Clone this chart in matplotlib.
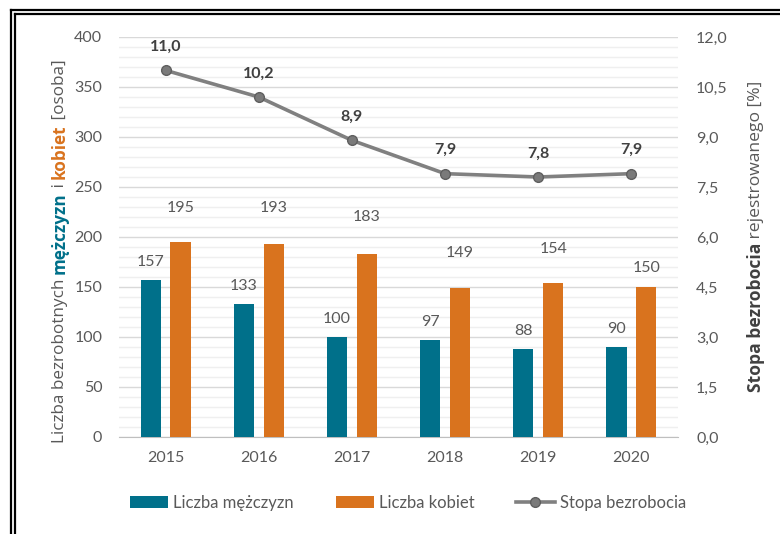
import matplotlib
matplotlib.use('Agg')
import matplotlib.pyplot as plt
from matplotlib.lines import Line2D
from matplotlib.text import Annotation
from matplotlib.ticker import MultipleLocator, FuncFormatter

plt.rcParams['font.family'] = ['Lato', 'DejaVu Sans']
plt.rcParams['font.size'] = 11.5

# dane
lata = ['2015', '2016', '2017', '2018', '2019', '2020']
mezczyzni = [157, 133, 100, 97, 88, 90]
kobiety = [195, 193, 183, 149, 154, 150]
stopa = [11.0, 10.2, 8.9, 7.9, 7.8, 7.9]

# przesunięcia etykiet kobiet (w punktach) - w oryginale przesunięte ręcznie
off_kobiety = [24.5, 26, 26.6, 25, 24.5, 13.7]

TEAL = '#00708a'
ORANGE = '#d9731e'
GRAY_TXT = '#595959'
LINE_GRAY = '#808080'

fig = plt.figure(figsize=(7.8, 5.34), dpi=100)
ax = fig.add_axes([119 / 780, 97 / 534, 559 / 780, 400 / 534])

x = list(range(len(lata)))
w = 0.215
xm = [i - 0.16 for i in x]
xk = [i + 0.16 for i in x]

b1 = ax.bar(xm, mezczyzni, width=w, color=TEAL, label='Liczba mężczyzn', zorder=3)
b2 = ax.bar(xk, kobiety, width=w, color=ORANGE, label='Liczba kobiet', zorder=3)

for xi, v in zip(xm, mezczyzni):
    ax.annotate(str(v), (xi, v), xytext=(0, 13), textcoords='offset points',
                ha='center', va='center', color=GRAY_TXT)
for xi, v, o in zip(xk, kobiety, off_kobiety):
    ax.annotate(str(v), (xi, v), xytext=(0, o), textcoords='offset points',
                ha='center', va='center', color=GRAY_TXT)

ax.set_xlim(-0.5, len(lata) - 0.5)
ax.set_ylim(0, 400)
ax.yaxis.set_major_locator(MultipleLocator(50))
ax.yaxis.set_minor_locator(MultipleLocator(10))
ax.grid(which='major', axis='y', color='#d9d9d9', linewidth=1.0)
ax.grid(which='minor', axis='y', color='#efefef', linewidth=1.0)
ax.set_axisbelow(True)
ax.set_xticks(x)
ax.set_xticklabels(lata)
for s in ['top', 'right', 'left']:
    ax.spines[s].set_visible(False)
ax.spines['bottom'].set_color('#bfbfbf')
ax.tick_params(axis='both', which='both', length=0, colors=GRAY_TXT, labelsize=11.5)
ax.tick_params(axis='y', pad=12)
ax.tick_params(axis='x', pad=10)

ax2 = ax.twinx()
ln, = ax2.plot(x, stopa, color=LINE_GRAY, linewidth=2.6, marker='o', markersize=7,
               markerfacecolor='#7a7a7a', markeredgecolor='#5f5f5f', label='Stopa bezrobocia')
for xi, v in zip(x, stopa):
    ax2.annotate(f'{v:.1f}'.replace('.', ','), (xi, v), xytext=(0, 17),
                 textcoords='offset points', ha='center', va='center',
                 color='#404040', fontweight='bold')
ax2.set_ylim(0, 12)
ax2.yaxis.set_major_locator(MultipleLocator(1.5))
ax2.yaxis.set_major_formatter(FuncFormatter(lambda v, p: f'{v:.1f}'.replace('.', ',')))
for s in ['top', 'right', 'left', 'bottom']:
    ax2.spines[s].set_visible(False)
ax2.tick_params(axis='y', length=0, colors=GRAY_TXT, labelsize=11.5, pad=13)

# wielokolorowe opisy osi, składane kawałek po kawałku
parts_l = [('Liczba bezrobotnych ', GRAY_TXT, 'normal'),
           ('mężczyzn', TEAL, 'bold'),
           (' i ', GRAY_TXT, 'normal'),
           ('kobiet', ORANGE, 'bold'),
           (' [osoba]', GRAY_TXT, 'normal')]
parts_r = [('Stopa bezrobocia', '#404040', 'bold'),
           (' rejestrowanego [%]', GRAY_TXT, 'normal')]


def chain(x0, y0, parts, size):
    fam = ['Open Sans', 'DejaVu Sans']
    prev = fig.text(x0, y0, parts[0][0], color=parts[0][1], fontweight=parts[0][2],
                    rotation=90, ha='center', va='bottom', fontsize=size, family=fam)
    for txt, col, fw in parts[1:]:
        prev = fig.add_artist(Annotation(
            txt, xy=(0.5, 1), xycoords=prev, color=col, fontweight=fw,
            rotation=90, ha='center', va='bottom', fontsize=size, family=fam,
            annotation_clip=False))


chain(60 / 780, (534 - 443) / 534, parts_l, 12.3)
chain(756 / 780, (534 - 392) / 534, parts_r, 12.6)

fig.legend(handles=[b1, b2, ln], loc='center', bbox_to_anchor=(0.523, 0.058),
           ncol=3, frameon=False, fontsize=12, labelcolor=GRAY_TXT,
           handlelength=2.3, handletextpad=0.3, columnspacing=2.5)

# podwójna ramka (góra i lewo)
for yp in [9.5, 13.5]:
    fig.add_artist(Line2D([(yp + 1.5) / 780, 1], [1 - yp / 534, 1 - yp / 534],
                          color='black', linewidth=1.6, transform=fig.transFigure))
for xp in [11, 15]:
    fig.add_artist(Line2D([xp / 780, xp / 780], [0, 1 - (xp - 1.5) / 534],
                          color='black', linewidth=1.6, transform=fig.transFigure))

fig.savefig('out.png', dpi=100)
